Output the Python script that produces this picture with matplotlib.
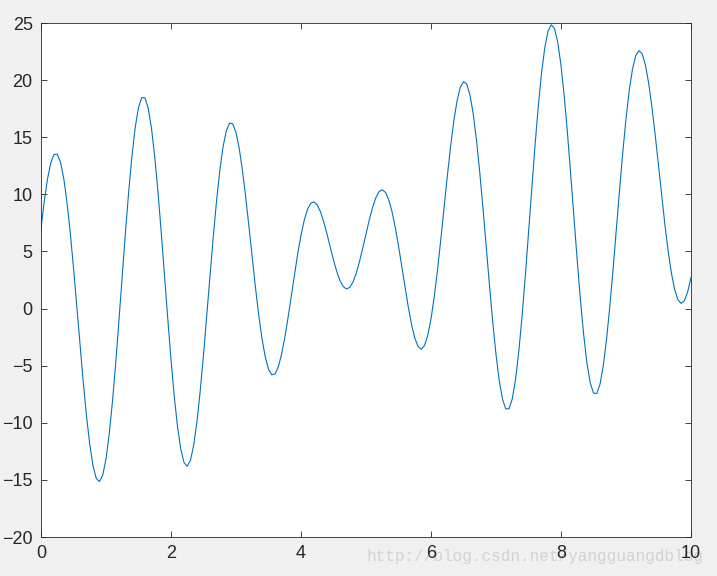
import numpy as np
import matplotlib
matplotlib.use('Agg')
import matplotlib.pyplot as plt

x = np.linspace(0, 10, 201)
y = [
    7.00, 9.39, 11.34, 12.74, 13.49, 13.52, 12.81, 11.38, 9.29, 6.64,
    3.57, 0.25, -3.15, -6.43, -9.40, -11.90, -13.76, -14.87, -15.15, -14.58,
    -13.16, -10.97, -8.11, -4.72, -0.98, 2.90, 6.73, 10.29, 13.40, 15.88,
    17.60, 18.47, 18.45, 17.53, 15.77, 13.28, 10.18, 6.66, 2.91, -0.87,
    -4.46, -7.67, -10.33, -12.30, -13.48, -13.81, -13.28, -11.93, -9.86, -7.17,
    -4.04, -0.62, 2.87, 6.27, 9.38, 12.04, 14.13, 15.54, 16.23, 16.17,
    15.41, 14.01, 12.07, 9.73, 7.13, 4.44, 1.82, -0.58, -2.63, -4.23,
    -5.30, -5.80, -5.73, -5.12, -4.03, -2.56, -0.82, 1.08, 3.00, 4.82,
    6.43, 7.74, 8.68, 9.22, 9.34, 9.07, 8.47, 7.58, 6.52, 5.38,
    4.25, 3.25, 2.44, 1.92, 1.71, 1.85, 2.32, 3.09, 4.11, 5.29,
    6.53, 7.75, 8.83, 9.69, 10.23, 10.40, 10.17, 9.53, 8.49, 7.12,
    5.49, 3.71, 1.89, 0.15, -1.37, -2.56, -3.32, -3.56, -3.24, -2.35,
    -0.91, 1.03, 3.37, 6.00, 8.78, 11.54, 14.12, 16.38, 18.16, 19.36,
    19.87, 19.65, 18.69, 17.03, 14.74, 11.93, 8.76, 5.39, 2.01, -1.19,
    -4.02, -6.32, -7.94, -8.78, -8.77, -7.91, -6.23, -3.79, -0.74, 2.79,
    6.60, 10.50, 14.25, 17.68, 20.59, 22.83, 24.28, 24.85, 24.52, 23.31,
    21.29, 18.58, 15.32, 11.69, 7.91, 4.18, 0.69, -2.35, -4.80, -6.51,
    -7.40, -7.44, -6.63, -5.03, -2.73, 0.12, 3.37, 6.84, 10.32, 13.64,
    16.61, 19.10, 20.97, 22.14, 22.58, 22.28, 21.29, 19.69, 17.60, 15.16,
    12.51, 9.83, 7.27, 4.97, 3.06, 1.63, 0.75, 0.45, 0.70, 1.48,
    2.71,
]
xticks = [0, 2, 4, 6, 8, 10]
yticks = [-20, -15, -10, -5, 0, 5, 10, 15, 20, 25]

plt.rcParams['font.family'] = ['Liberation Sans', 'DejaVu Sans']

fig = plt.figure(figsize=(7.17, 5.76), dpi=100, facecolor='#f0f0f0')
ax = fig.add_axes([41 / 717, 39 / 576, 650 / 717, 514 / 576])
ax.plot(x, y, color='#0072BD', linewidth=0.8)

ax.set_xlim(0, 10)
ax.set_ylim(-20, 25)
ax.set_xticks(xticks)
ax.set_yticks(yticks)
ax.tick_params(direction='in', length=4.5, width=0.6, top=True, right=True,
               labelsize=13, colors='#262626', pad=6)
for s in ax.spines.values():
    s.set_color('#262626')
    s.set_linewidth(0.6)

# marca de agua del blog (queda debajo de las etiquetas)
fig.text(366 / 717, 1 - 556 / 576, 'http://blog.csdn.net/yangguangdblog',
         fontsize=11.6, color='#d2d2d2', family='Liberation Mono',
         va='center', ha='left', zorder=-1)

fig.savefig('out.png', dpi=100, facecolor=fig.get_facecolor())
